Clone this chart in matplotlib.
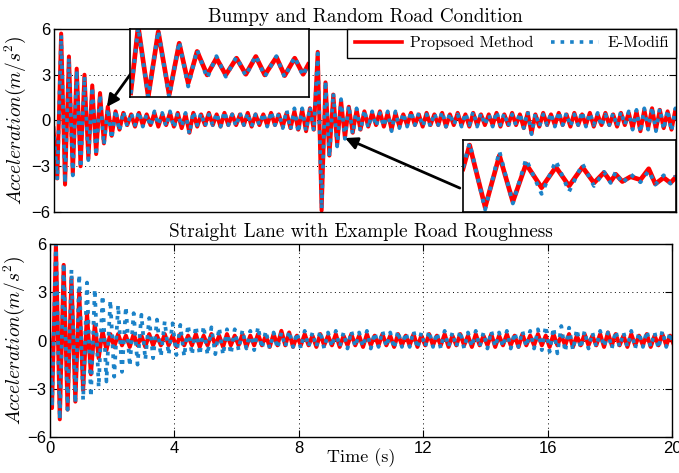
import numpy as np
import matplotlib
matplotlib.use('Agg')
import matplotlib.pyplot as plt
from matplotlib.lines import Line2D

plt.rcParams['mathtext.fontset'] = 'cm'
plt.rcParams['axes.unicode_minus'] = True

# ---------------- data (extrema) ----------------
HALF_PERIOD = 0.125          # s between successive extrema
top_t0 = -0.02               # time of first extremum, top panel
bot_t0 = -0.06               # time of first extremum, bottom panel

top_red = [
    -0.5, -3.8, 5.7, -4.2, 4.2, -3.5, 3.4, -3.0, 3.0, -2.5,
    2.3, -2.2, 1.8, -1.5, 0.9, -1.0, 0.6, -0.6, 0.5, -0.3,
    0.4, -0.4, 0.5, -0.3, 0.4, -0.3, 0.5, -0.4, 0.4, -0.3,
    0.5, -0.4, 0.5, -0.5, 0.4, -0.8, 0.5, -0.4, 0.4, -0.3,
    0.5, -0.3, 0.4, -0.4, 0.5, -0.3, 0.4, -0.3, 0.4, -0.3,
    0.5, -0.4, 0.4, -0.3, 0.4, -0.3, 0.5, -0.3, 0.4, -0.4,
    0.5, -0.5, 0.6, -0.6, 0.7, -0.7, 0.8, -0.6, 4.5, -5.9,
    2.5, -2.3, 1.7, -1.6, 1.3, -1.15, 0.9, -0.8, 0.7, -0.6,
    0.6, -0.4, 0.5, -0.3, 0.6, -0.4, 0.5, -0.6, 0.5, -0.4,
    0.4, -0.3, 0.5, -0.3, 0.4, -0.4, 0.5, -0.3, 0.4, -0.3,
    0.5, -0.4, 0.4, -0.3, 0.5, -0.3, 0.4, -0.4, 0.5, -0.3,
    0.4, -0.3, 0.4, -0.3, 0.5, -0.4, 0.4, -0.3, 0.5, -0.3,
    0.4, -0.5, 0.5, -0.85, 0.4, -0.4, 0.5, -0.3, 0.4, -0.3,
    0.5, -0.3, 0.4, -0.4, 0.5, -0.3, 0.4, -0.3, 0.5, -0.4,
    0.4, -0.3, 0.5, -0.3, 0.4, -0.4, 0.5, -0.3, 0.5, -0.5,
    0.6, -0.7, 0.7, -0.5, 0.8, -0.6, 0.7, -0.5, 0.6, -0.6,
    0.7, -0.4,
]
top_blue = [
    -0.4, -3.9, 5.6, -4.1, 4.1, -3.6, 3.3, -3.1, 2.9, -2.6,
    2.2, -2.3, 1.7, -1.6, 0.8, -1.2, 0.7, -0.7, 0.6, -0.4,
    0.5, -0.3, 0.6, -0.4, 0.4, -0.4, 0.6, -0.3, 0.5, -0.4,
    0.6, -0.5, 0.5, -0.4, 0.5, -0.9, 0.6, -0.3, 0.5, -0.4,
    0.4, -0.3, 0.5, -0.4, 0.6, -0.3, 0.4, -0.4, 0.5, -0.3,
    0.5, -0.4, 0.4, -0.3, 0.5, -0.4, 0.6, -0.3, 0.5, -0.5,
    0.7, -0.6, 0.8, -0.8, 0.8, -0.7, 0.9, -0.7, 4.4, -5.8,
    2.6, -2.4, 1.8, -1.7, 1.4, -1.2, 1.0, -0.9, 0.8, -0.7,
    0.7, -0.5, 0.6, -0.4, 0.5, -0.4, 0.6, -0.7, 0.6, -0.5,
    0.5, -0.4, 0.6, -0.3, 0.5, -0.4, 0.4, -0.4, 0.5, -0.3,
    0.6, -0.4, 0.5, -0.3, 0.4, -0.4, 0.5, -0.3, 0.6, -0.4,
    0.5, -0.3, 0.4, -0.4, 0.6, -0.3, 0.5, -0.4, 0.4, -0.3,
    0.5, -0.5, 0.6, -0.9, 0.5, -0.4, 0.4, -0.3, 0.5, -0.4,
    0.6, -0.3, 0.5, -0.4, 0.4, -0.3, 0.6, -0.4, 0.5, -0.3,
    0.5, -0.4, 0.4, -0.3, 0.5, -0.4, 0.6, -0.3, 0.6, -0.6,
    0.7, -0.8, 0.8, -0.6, 0.9, -0.7, 0.8, -0.6, 0.7, -0.7,
    0.8, -0.5,
]
bot_red = [
    2.0, -4.2, 6.0, -4.9, 4.7, -4.3, 3.9, -3.8, 3.0, -3.1,
    1.7, -2.1, 1.0, -1.1, 0.6, -0.6, 0.4, -0.4, 0.4, -0.3,
    0.3, -0.4, 0.4, -0.3, 0.3, -0.4, 0.4, -0.3, 0.3, -0.3,
    0.4, -0.3, 0.3, -0.4, 0.4, -0.3, 0.3, -0.3, 0.4, -0.4,
    0.3, -0.3, 0.4, -0.3, 0.3, -0.4, 0.4, -0.3, 0.3, -0.3,
    0.4, -0.4, 0.3, -0.3, 0.4, -0.3, 0.3, -0.4, 0.4, -0.3,
    0.6, -0.3, 0.5, -0.4, 0.3, -0.3, 0.4, -0.3, 0.3, -0.4,
    0.4, -0.3, 0.3, -0.3, 0.4, -0.4, 0.3, -0.3, 0.4, -0.3,
    0.3, -0.4, 0.4, -0.3, 0.3, -0.3, 0.4, -0.3, 0.3, -0.4,
    0.4, -0.3, 0.3, -0.3, 0.4, -0.4, 0.3, -0.3, 0.4, -0.3,
    0.3, -0.3, 0.4, -0.4, 0.3, -0.3, 0.4, -0.3, 0.3, -0.4,
    0.4, -0.3, 0.3, -0.3, 0.4, -0.4, 0.3, -0.3, 0.4, -0.3,
    0.3, -0.4, 0.4, -0.3, 0.3, -0.3, 0.4, -0.3, 0.3, -0.4,
    0.4, -0.3, 0.3, -0.3, 0.4, -0.4, 0.3, -0.3, 0.4, -0.3,
    0.3, -0.3, 0.4, -0.4, 0.5, -0.3, 0.4, -0.3, 0.3, -0.4,
    0.4, -0.3, 0.3, -0.3, 0.4, -0.4, 0.3, -0.3, 0.4, -0.3,
    0.3, -0.3,
]
bot_blue = [
    2.0, -4.1, 6.0, -4.9, 4.8, -4.3, 4.4, -3.9, 4.1, -3.7,
    3.6, -3.5, 3.2, -2.9, 2.8, -2.55, 2.5, -2.25, 2.2, -1.95,
    2.1, -1.6, 1.7, -1.5, 1.6, -1.2, 1.4, -1.1, 1.3, -1.0,
    1.2, -0.9, 1.07, -0.9, 0.97, -1.0, 0.97, -0.9, 0.9, -0.9,
    0.9, -0.9, 0.82, -0.85, 0.8, -0.9, 0.7, -0.85, 0.7, -0.6,
    0.65, -0.5, 0.6, -0.6, 0.85, -0.5, 0.6, -0.5, 0.5, -0.5,
    0.5, -0.4, 0.6, -0.4, 0.5, -0.5, 0.6, -0.4, 0.5, -0.4,
    0.6, -0.5, 0.5, -0.4, 0.6, -0.4, 0.5, -0.5, 0.6, -0.4,
    0.5, -0.4, 0.6, -0.5, 0.5, -0.4, 0.6, -0.4, 0.5, -0.5,
    0.6, -0.4, 0.5, -0.4, 0.6, -0.5, 0.5, -0.4, 0.6, -0.4,
    0.5, -0.5, 0.6, -0.4, 0.5, -0.4, 0.6, -0.5, 0.5, -0.4,
    0.6, -0.4, 0.5, -0.5, 0.6, -0.4, 0.5, -0.4, 0.6, -0.5,
    0.5, -0.4, 0.6, -0.4, 0.6, -0.5, 0.7, -0.6, 0.9, -0.7,
    0.8, -0.8, 0.9, -0.7, 0.8, -0.6, 0.7, -0.5, 0.6, -0.5,
    0.5, -0.4, 0.6, -0.4, 0.5, -0.5, 0.6, -0.4, 0.5, -0.4,
    0.6, -0.5, 0.5, -0.4, 0.6, -0.4, 0.5, -0.5, 0.6, -0.4,
    0.5, -0.4,
]

# zoom insets: position within the zoom window (%) and value (normalised)
inset1_x = [0.4, 4.6, 10.2, 15.8, 21.9, 27.5, 32.5, 37.5, 43.1, 48.3,
            53.5, 59.5, 64.7, 70.3, 75.3, 81.8, 86.4, 92.0, 96.7, 99.6]
inset1_red = [-0.88, 1.07, -0.98, 0.92, -0.93, 0.58, -0.59, 0.34, -0.35, 0.14,
              -0.35, 0.14, -0.33, 0.19, -0.35, 0.17, -0.37, 0.14, -0.33, -0.05]
inset1_blue = [-0.9, 1.05, -1.0, 0.95, -1.0, 0.63, -0.69, 0.39, -0.44, 0.2,
               -0.4, 0.18, -0.38, 0.22, -0.4, 0.2, -0.42, 0.18, -0.38, 0.0]

inset2_x = [0.0, 3.1, 10.4, 17.1, 23.4, 29.6, 36.9, 43.6, 49.8, 56.1, 61.5,
            66.2, 69.3, 71.7, 74.8, 78.7, 83.3, 87.2, 90.3, 94.2, 97.4, 99.7]
inset2_red = [0.21, 0.90, -0.91, 0.60, -0.75, 0.35, -0.34, 0.26, -0.29, 0.26, -0.20,
              0.10, -0.16, 0.05, -0.16, -0.02, -0.11, 0.21, -0.23, -0.05, -0.20, -0.05]
inset2_blue = [0.25, 0.96, -0.98, 0.72, -0.80, 0.49, -0.52, 0.44, -0.45, 0.35, -0.29,
               0.12, -0.20, 0.12, -0.22, 0.05, -0.18, 0.15, -0.25, 0.02, -0.22, 0.0]

yticks = [-6, -3, 0, 3, 6]
xticks = [0, 4, 8, 12, 16, 20]
titles = ['Bumpy and Random Road Condition',
          'Straight Lane with Example Road Roughness']
legend_labels = ['Propsoed Method', 'E-Modifi']
ylabel = r'$Acceleration(m/s^2)$'
xlabel = 'Time (s)'

# arrow annotations (data coordinates of top panel): (tail, head)
arrow1 = ((2.67, 3.64), (1.70, 0.89))
arrow2 = ((13.05, -4.43), (9.36, -1.15))

# ---------------- style ----------------
RED = '#ff0000'
BLUE = '#1b82c8'
SERIF = 'cmr10'
TICKFONT = 'Liberation Sans'
W, H = 679, 473

def lab(v):
    return str(v).replace('-', '\u2212')

fig = plt.figure(figsize=(W / 100, H / 100), dpi=100)
ax1 = fig.add_axes([54 / W, 1 - 212 / H, 622 / W, 183 / H])
ax2 = fig.add_axes([50 / W, 1 - 437 / H, 622 / W, 193 / H])

def times(t0, vals):
    return t0 + HALF_PERIOD * np.arange(len(vals))

grid_ls = (0, (1, 3.5))

for ax, t0, rv, bv, title in [(ax1, top_t0, top_red, top_blue, titles[0]),
                              (ax2, bot_t0, bot_red, bot_blue, titles[1])]:
    ax.plot(times(t0, rv), rv, color=RED, lw=2.9)
    ax.plot(times(t0, bv), bv, color=BLUE, lw=2.7, ls=':')
    ax.set_xlim(0, 20)
    ax.set_ylim(-6, 6)
    ax.set_yticks(yticks)
    ax.set_yticklabels([lab(v) for v in yticks], fontfamily=TICKFONT, fontsize=12)
    ax.tick_params(direction='in', length=5, width=0.8, top=True, right=True, pad=3)
    ax.tick_params(axis='y', pad=2.5)
    ax.set_title(title, fontfamily=SERIF, fontsize=13.8, pad=5)
    ax.set_ylabel(ylabel, fontsize=14)
    for s in ax.spines.values():
        s.set_linewidth(1.0)

ax1.set_xticks([])
ax1.yaxis.grid(True, color='k', lw=0.7, ls=grid_ls)
ax1.yaxis.set_label_coords(-0.041, 0.5)

ax2.set_xticks(xticks)
ax2.set_xticklabels([lab(v) for v in xticks], fontfamily=TICKFONT, fontsize=12)
ax2.grid(True, color='k', lw=0.7, ls=grid_ls)
ax2.yaxis.set_label_coords(-0.037, 0.5)
ax2.set_xlabel(xlabel, fontfamily=SERIF, fontsize=13)
ax2.xaxis.set_label_coords(0.5, -0.06)
ax2.xaxis.label.set_va('top')

# legend
handles = [Line2D([], [], color=RED, lw=2.6),
           Line2D([], [], color=BLUE, lw=2.6, ls=':')]
leg = ax1.legend(handles, legend_labels, ncol=2, loc='upper right',
                 bbox_to_anchor=(1, 1), borderaxespad=0, fancybox=False,
                 edgecolor='k', framealpha=1, handlelength=3.0,
                 columnspacing=1.1, handletextpad=0.5, borderpad=0.45,
                 prop={'family': SERIF, 'size': 11.5})
leg.get_frame().set_linewidth(1.0)
leg.set_zorder(6)

# arrows
for tail, head in (arrow1, arrow2):
    ax1.annotate('', xy=head, xytext=tail,
                 arrowprops=dict(arrowstyle='-|>', lw=2.0, color='k',
                                 mutation_scale=18, shrinkA=0, shrinkB=0),
                 zorder=4)

# insets
in1 = ax1.inset_axes([76 / 622, 1 - 68 / 183, 179 / 622, 68 / 183])
in2 = ax1.inset_axes([409 / 622, 0, 213 / 622, 72 / 183])
for ins, xs, r, b, ylim in [(in1, inset1_x, inset1_red, inset1_blue, (-1.0, 1.0)),
                            (in2, inset2_x, inset2_red, inset2_blue, (-1.05, 1.05))]:
    ins.plot(xs, r, color=RED, lw=3.4)
    ins.plot(xs, b, color=BLUE, lw=2.8, ls=':')
    ins.set_xlim(0, 100)
    ins.set_ylim(*ylim)
    ins.set_xticks([])
    ins.set_yticks([])
    ins.set_facecolor('white')
    for s in ins.spines.values():
        s.set_linewidth(1.2)
    ins.set_zorder(5)

fig.savefig('out.png', dpi=100)
